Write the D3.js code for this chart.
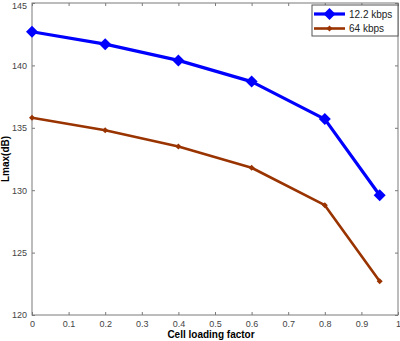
<!DOCTYPE html>
<html>
<head>
<meta charset="utf-8">
<script src="https://cdn.jsdelivr.net/npm/d3@7"></script>
<style>
  body { margin: 0; background: #fff; }
  svg { display: block; font-family: "Liberation Sans", Arial, sans-serif; }
</style>
</head>
<body>
<script>
var loadFactor = [0, 0.2, 0.4, 0.6, 0.8, 0.95];
var lmax122 = [142.7, 141.7, 140.4, 138.7, 135.7, 129.6];
var lmax64 = [135.8, 134.8, 133.5, 131.8, 128.8, 122.7];
var xTicks = [0, 0.1, 0.2, 0.3, 0.4, 0.5, 0.6, 0.7, 0.8, 0.9, 1];
var yTicks = [120, 125, 130, 135, 140, 145];
var seriesNames = ["12.2 kbps", "64 kbps"];

var w = 400, h = 341;
var margin = { top: 3, right: 2, bottom: 26, left: 32 },
    width = w - margin.left - margin.right,
    height = h - margin.top - margin.bottom;

var svg = d3.select("body").append("svg")
    .attr("width", w)
    .attr("height", h);

var g = svg.append("g")
    .attr("transform", "translate(" + margin.left + "," + margin.top + ")");

var x = d3.scaleLinear().domain([0, 1]).range([0, width]);
var y = d3.scaleLinear().domain([120, 145]).range([height, 0]);

var axisColor = "#7a7a7a";

// box
g.append("rect")
    .attr("width", width)
    .attr("height", height)
    .attr("fill", "none")
    .attr("stroke", axisColor)
    .attr("stroke-width", 1);

function styleAxis(sel) {
    sel.select(".domain").remove();
    sel.selectAll("line").attr("stroke", axisColor);
    sel.selectAll("text")
        .attr("fill", "#444")
        .style("font-size", "9px");
}

g.append("g")
    .attr("transform", "translate(0," + height + ")")
    .call(d3.axisBottom(x).tickValues(xTicks).tickSizeInner(-3).tickSizeOuter(0).tickPadding(6)
        .tickFormat(function (d) { return d; }))
    .call(styleAxis);

g.append("g")
    .call(d3.axisTop(x).tickValues(xTicks).tickSizeInner(-3).tickSizeOuter(0).tickFormat(""))
    .call(styleAxis);

var yAxisG = g.append("g")
    .call(d3.axisLeft(y).tickValues(yTicks).tickSizeInner(-3).tickSizeOuter(0).tickPadding(5))
    .call(styleAxis);

// keep the top label inside the window
yAxisG.selectAll(".tick text")
    .filter(function (d) { return d === 145; })
    .attr("dy", "0.62em");

g.append("g")
    .attr("transform", "translate(" + width + ",0)")
    .call(d3.axisRight(y).tickValues(yTicks).tickSizeInner(-3).tickSizeOuter(0).tickFormat(""))
    .call(styleAxis);

// axis labels
svg.append("text")
    .attr("x", margin.left + x(0.5) - 4)
    .attr("y", 338)
    .attr("text-anchor", "middle")
    .attr("font-weight", "bold")
    .style("font-size", "10px")
    .text("Cell loading factor");

svg.append("text")
    .attr("transform", "translate(9," + (margin.top + height / 2) + ") rotate(-90)")
    .attr("text-anchor", "middle")
    .attr("font-weight", "bold")
    .style("font-size", "10px")
    .text("Lmax(dB)");

var series = [
    { name: seriesNames[0], values: lmax122, color: "#0000ff", lw: 3.2, marker: 6 },
    { name: seriesNames[1], values: lmax64, color: "#993300", lw: 2.6, marker: 3 }
];

var line = d3.line()
    .x(function (d) { return x(d[0]); })
    .y(function (d) { return y(d[1]); });

function diamond(cx, cy, r) {
    return "M" + cx + "," + (cy - r) + "L" + (cx + r) + "," + cy +
        "L" + cx + "," + (cy + r) + "L" + (cx - r) + "," + cy + "Z";
}

series.forEach(function (s) {
    var pts = loadFactor.map(function (v, i) { return [v, s.values[i]]; });
    g.append("path")
        .datum(pts)
        .attr("fill", "none")
        .attr("stroke", s.color)
        .attr("stroke-width", s.lw)
        .attr("stroke-linejoin", "round")
        .attr("d", line);
    g.selectAll(null)
        .data(pts)
        .enter()
        .append("path")
        .attr("fill", s.color)
        .attr("d", function (d) { return diamond(x(d[0]), y(d[1]), s.marker); });
});

// legend
var lg = svg.append("g").attr("transform", "translate(312,5)");
lg.append("rect")
    .attr("width", 86)
    .attr("height", 31)
    .attr("fill", "#fff")
    .attr("stroke", "#555")
    .attr("stroke-width", 1);

series.forEach(function (s, i) {
    var yy = 9 + i * 14.5;
    lg.append("line")
        .attr("x1", 2).attr("x2", 33)
        .attr("y1", yy).attr("y2", yy)
        .attr("stroke", s.color)
        .attr("stroke-width", s.lw);
    lg.append("path")
        .attr("fill", s.color)
        .attr("d", diamond(17.5, yy, s.marker));
    lg.append("text")
        .attr("x", 37)
        .attr("y", yy + 3.5)
        .style("font-size", "10px")
        .attr("fill", "#222")
        .text(s.name);
});
</script>
</body>
</html>
